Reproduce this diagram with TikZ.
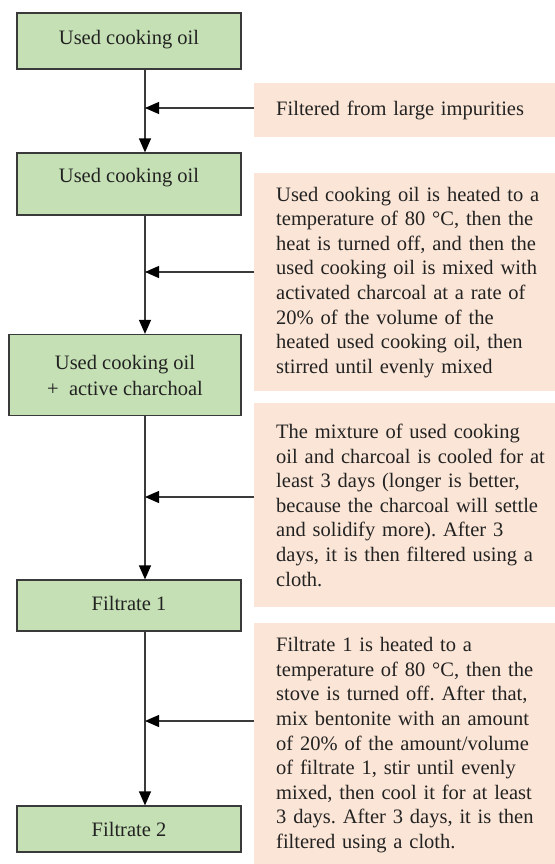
\documentclass[tikz,border=0pt]{standalone}
\usepackage{fontspec}
\setmainfont{Liberation Serif}
\usetikzlibrary{arrows.meta}
\definecolor{boxgreen}{HTML}{C5E0B4}
\definecolor{boxpink}{HTML}{FBE5D6}
\definecolor{edgegray}{HTML}{3A3A3A}
\definecolor{ink}{HTML}{222222}
\frenchspacing
\begin{document}
\begin{tikzpicture}[x=1pt,y=-1pt,
  font=\fontsize{20.5}{24.6}\selectfont, text=ink,
  greenbox/.style={draw=edgegray, line width=1.2pt, fill=boxgreen,
    minimum width=224pt, inner sep=0pt, align=center},
  oneline/.style={text height=15pt, text depth=#1},
  pinkbox/.style={fill=boxpink, anchor=north west, minimum width=300pt,
    inner xsep=22pt, inner ysep=0pt, text width=278pt, align=left},
  arr/.style={draw=edgegray, line width=1.2pt,
    -{Triangle[length=14pt,width=12pt,color=black]}}]
\useasboundingbox (0,0) rectangle (554,864);

% process boxes
\node[greenbox, oneline=8pt, minimum height=56pt] (b1) at (129,41) {Used cooking oil};
\node[greenbox, oneline=18pt, minimum height=62pt] (b2) at (129,184) {Used cooking oil};
\node[greenbox, minimum width=232pt, minimum height=81pt,
  font=\fontsize{20.5}{26}\selectfont] (b3) at (125,375) {Used cooking oil\\ +\ \ active charchoal};
\node[greenbox, oneline=5pt, minimum height=51pt] (b4) at (129,605.5) {Filtrate 1};
\node[greenbox, oneline=0pt, minimum height=46pt] (b5) at (129,829) {Filtrate 2};

% description boxes
\node[pinkbox, minimum height=54pt] (p1) at (254,83) {Filtered from large impurities};
\node[pinkbox, minimum height=218pt] (p2) at (254,173) {Used cooking oil is heated to a\\
temperature of 80 °C, then the\\
heat is turned off, and then the\\
used cooking oil is mixed with\\
activated charcoal at a rate of\\
20\% of the volume of the\\
heated used cooking oil, then\\
stirred until evenly mixed};
\node[pinkbox, minimum height=204pt] (p3) at (254,403) {The mixture of used cooking\\
oil and charcoal is cooled for at\\
least 3 days (longer is better,\\
because the charcoal will settle\\
and solidify more). After 3\\
days, it is then filtered using a\\
cloth.};
\node[pinkbox, minimum height=244pt] (p4) at (254,623) {Filtrate 1 is heated to a\\
temperature of 80 °C, then the\\
stove is turned off. After that,\\
mix bentonite with an amount\\
of 20\% of the amount/volume\\
of filtrate 1, stir until evenly\\
mixed, then cool it for at least\\
3 days. After 3 days, it is then\\
filtered using a cloth.};

% junctions on the main line
\coordinate (j1) at (145,108);
\coordinate (j2) at (145,272);
\coordinate (j3) at (145,497);
\coordinate (j4) at (145,721);

% main flow
\draw[arr] (b1.south -| j1) -- (b2.north -| j1);
\draw[arr] (b2.south -| j2) -- (b3.north -| j2);
\draw[arr] (b3.south -| j3) -- (b4.north -| j3);
\draw[arr] (b4.south -| j4) -- (b5.north -| j4);

% side inputs
\draw[arr] (p1.west |- j1) -- (j1);
\draw[arr] (p2.west |- j2) -- (j2);
\draw[arr] (p3.west |- j3) -- (j3);
\draw[arr] (p4.west |- j4) -- (j4);
\end{tikzpicture}
\end{document}
